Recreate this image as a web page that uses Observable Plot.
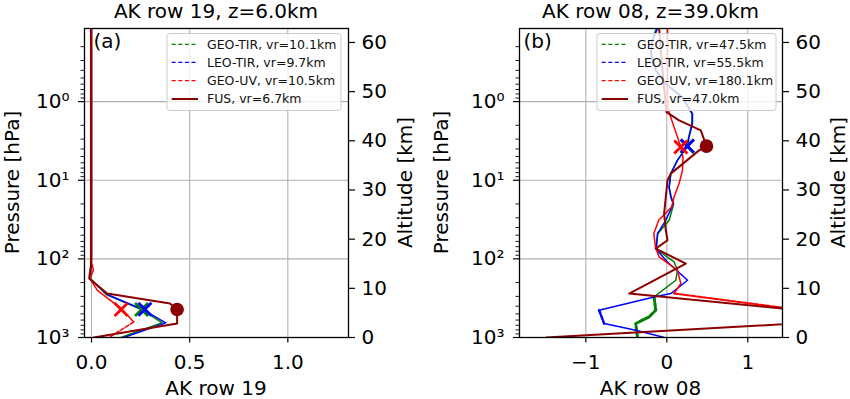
<!DOCTYPE html>
<html><head><meta charset="utf-8">
<script src="https://cdn.jsdelivr.net/npm/d3@7"></script>
<script src="https://cdn.jsdelivr.net/npm/@observablehq/plot@0.6"></script>
<style>
html,body{margin:0;padding:0;background:#fff;}
#fig{position:relative;width:850px;height:399px;overflow:hidden;font-family:"DejaVu Sans";background:#fff;}
#fig svg{position:absolute;top:0;}
</style></head><body><div id="fig"></div>
<script>
// ---------- shared axis values ----------
const yTicks = [1, 10, 100, 1000];
const yTickLabels = ["10\u2070", "10\u00B9", "10\u00B2", "10\u00B3"];
const yGrid = [1, 10, 100];
const altTicks = [0, 10, 20, 30, 40, 50, 60];
const seriesNames = ["GEO-TIR", "LEO-TIR", "GEO-UV", "FUS"];

// ---------- panel (a): AK row 19, z=6.0km ----------
const a_title = "AK row 19, z=6.0km";
const a_xlabel = "AK row 19";
const a_xTicks = [0, 0.5, 1.0];
const a_xTickLabels = ["0.0", "0.5", "1.0"];
const a_legend = ["GEO-TIR, vr=10.1km", "LEO-TIR, vr=9.7km", "GEO-UV, vr=10.5km", "FUS, vr=6.7km"];

const a_GEO_TIR_p = [0.1175, 100, 178, 284, 440, 650, 1000];
const a_GEO_TIR_v = [0.0, 0.0, -0.005, 0.075, 0.255, 0.36, 0.15];
const a_LEO_TIR_p = [0.1175, 100, 180, 284, 440, 652, 1000];
const a_LEO_TIR_v = [0.0, 0.0, -0.008, 0.08, 0.26, 0.378, 0.165];
const a_GEO_UV_p = [0.1175, 110, 139, 178, 251, 440, 634, 1000];
const a_GEO_UV_v = [0.0, 0.0, 0.01, -0.008, 0.03, 0.156, 0.215, 0.09];
const a_FUS_p = [0.1175, 120, 178, 276, 370, 441, 664, 1000];
const a_FUS_v = [-0.003, -0.003, -0.012, 0.08, 0.40, 0.436, 0.436, 0.012];
// diagonal markers (x) and FUS dot
const a_mark_v = [0.255, 0.272, 0.151];
const a_mark_p = [441, 437, 441];
const a_dot_v = [0.436];
const a_dot_p = [441];

// ---------- panel (b): AK row 08, z=39.0km ----------
const b_title = "AK row 08, z=39.0km";
const b_xlabel = "AK row 08";
const b_xTicks = [-1, 0, 1];
const b_xTickLabels = ["\u22121", "0", "1"];
const b_legend = ["GEO-TIR, vr=47.5km", "LEO-TIR, vr=55.5km", "GEO-UV, vr=180.1km", "FUS, vr=47.0km"];

const b_GEO_TIR_p = [0.1175, 0.167, 0.246, 0.40, 0.593, 0.877, 1.425, 1.91, 2.83, 3.68, 5.58, 8.24, 12.2, 16.3, 20, 32.3, 47.7, 74, 109.5, 139.6, 187, 305, 450, 547, 664, 1000];
const b_GEO_TIR_v = [-0.13, -0.18, -0.19, -0.13, -0.02, 0.18, 0.31, 0.31, 0.27, 0.25, 0.13, 0.05, 0.03, 0.055, 0.085, 0.03, -0.11, -0.136, 0.09, 0.132, 0.111, -0.157, -0.136, -0.219, -0.383, -0.362];
const b_LEO_TIR_p = [0.1175, 0.167, 0.246, 0.40, 0.593, 0.877, 1.425, 1.91, 2.83, 3.68, 5.58, 8.24, 12.2, 16.3, 20, 32.3, 47.7, 76, 109.5, 187, 276, 305, 450, 664, 808, 1000];
const b_LEO_TIR_v = [-0.115, -0.177, -0.198, -0.136, -0.012, 0.194, 0.317, 0.317, 0.275, 0.256, 0.132, 0.049, 0.028, 0.049, 0.08, -0.012, -0.115, -0.13, 0.009, 0.256, 0.049, -0.157, -0.836, -0.774, -0.383, -0.03];
const b_GEO_UV_p = [0.1175, 1.0, 1.294, 2.11, 3.75, 5.07, 7.48, 11.0, 16.3, 21.9, 32.3, 47.7, 70.6, 94.6, 139.6, 206, 276, 583];
const b_GEO_UV_v = [0.009, 0.009, 0.021, 0.09, 0.173, 0.2, 0.194, 0.152, 0.09, 0.06, -0.1, -0.16, -0.14, -0.095, 0.132, 0.173, 0.09, 2.5];
const b_FUS_p = [0.1175, 0.2235, 0.489, 1.36, 1.734, 2.32, 3.68, 4.17, 8.24, 10.0, 16.3, 26.6, 43.3, 58, 74, 114.8, 276, 574, 1000];
const b_FUS_v = [-0.095, -0.074, -0.046, -0.004, 0.152, 0.42, 0.49, 0.399, 0.049, 0.009, -0.012, -0.033, -0.012, 0.009, -0.136, 0.235, -0.465, 2.69, -1.49];
const b_mark_v = [0.25, 0.256, 0.173];
const b_mark_p = [3.68, 3.68, 3.78];
const b_dot_v = [0.49];
const b_dot_p = [3.68];

// ---------- styles (kept apart from data) ----------
const COLORS = {"GEO-TIR": "green", "LEO-TIR": "blue", "GEO-UV": "red", "FUS": "#8b0000"};
const FONT = "DejaVu Sans";

function rows(p, v, dash) {
  const out = [];
  const seg = (i0, i1, s, dashed) => { for (let i = i0; i <= i1; i++) out.push({p: p[i], v: v[i], seg: s, dashed}); };
  if (!dash) seg(0, p.length - 1, 0, false);
  else {
    if (dash[0] > 0) seg(0, dash[0], 0, false);
    seg(dash[0], dash[1], 1, true);
    if (dash[1] < p.length - 1) seg(dash[1], p.length - 1, 2, false);
  }
  return out;
}

const yMinor = [];
for (const dec of [0.1, 1, 10, 100]) for (let k = 2; k <= 9; k++) { const t = dec * k; if (t >= 0.1175 && t <= 1000) yMinor.push(t); }

const panels = [
  {left: 0, mL: 84, mR: 77, xDomain: [-0.0357, 1.309], xTicks: a_xTicks, xTickLabels: a_xTickLabels,
   series: [
     {name: "GEO-TIR", p: a_GEO_TIR_p, v: a_GEO_TIR_v, dash: null, w: 1.5, dw: 1.5},
     {name: "LEO-TIR", p: a_LEO_TIR_p, v: a_LEO_TIR_v, dash: null, w: 1.5, dw: 1.5},
     {name: "GEO-UV", p: a_GEO_UV_p, v: a_GEO_UV_v, dash: [6, 7], w: 1.5, dw: 1.5},
     {name: "FUS", p: a_FUS_p, v: a_FUS_v, dash: null, w: 2, dw: 2}],
   mark_v: a_mark_v, mark_p: a_mark_p, dot_v: a_dot_v, dot_p: a_dot_p},
  {left: 425, mL: 94, mR: 68, xDomain: [-1.819, 1.429], xTicks: b_xTicks, xTickLabels: b_xTickLabels,
   series: [
     {name: "GEO-TIR", p: b_GEO_TIR_p, v: b_GEO_TIR_v, dash: [21, 25], w: 1.5, dw: 3},
     {name: "LEO-TIR", p: b_LEO_TIR_p, v: b_LEO_TIR_v, dash: [22, 23], w: 1.5, dw: 2.5},
     {name: "GEO-UV", p: b_GEO_UV_p, v: b_GEO_UV_v, dash: [16, 17], w: 1.5, dw: 2},
     {name: "FUS", p: b_FUS_p, v: b_FUS_v, dash: null, w: 2, dw: 2}],
   mark_v: b_mark_v, mark_p: b_mark_p, dot_v: b_dot_v, dot_p: b_dot_p}
];

const fig = document.getElementById("fig");
const baseStyle = {background: "transparent", fontFamily: FONT, fontSize: "20px", color: "black", overflow: "visible"};

for (const P of panels) {
  const marks = [
    Plot.gridX({ticks: P.xTicks, stroke: "#b0b0b0", strokeOpacity: 1, strokeWidth: 1.1}),
    Plot.gridY({ticks: yGrid, stroke: "#b0b0b0", strokeOpacity: 1, strokeWidth: 1.1})
  ];
  for (const s of P.series) {
    const r = rows(s.p, s.v, s.dash);
    marks.push(Plot.line(r.filter(d => !d.dashed), {x: "v", y: "p", z: "seg", stroke: COLORS[s.name], strokeWidth: s.w, clip: true}));
    marks.push(Plot.line(r.filter(d => d.dashed), {x: "v", y: "p", z: "seg", stroke: COLORS[s.name], strokeWidth: s.dw, strokeDasharray: "4,1.8", clip: true}));
  }
  P.mark_v.forEach((v, i) => {
    marks.push(Plot.dot([{v, p: P.mark_p[i]}], {x: "v", y: "p", symbol: "times", r: 6, stroke: COLORS[seriesNames[i]], strokeWidth: 2.8}));
  });
  marks.push(Plot.dot(P.dot_v.map((v, i) => ({v, p: P.dot_p[i]})), {x: "v", y: "p", r: 6.8, fill: COLORS.FUS, stroke: "none"}));
  marks.push(Plot.frame({stroke: "black", strokeWidth: 1.3}));
  marks.push(Plot.axisX({ticks: P.xTicks, tickFormat: d => P.xTickLabels[P.xTicks.indexOf(d)], tickSize: 5.5, tickPadding: 12, fontSize: 20, label: null, strokeWidth: 1.2}));
  marks.push(Plot.axisY({ticks: yTicks, tickFormat: d => yTickLabels[yTicks.indexOf(d)], tickSize: 6, tickPadding: 9, fontSize: 20, label: null, strokeWidth: 1.2}));
  marks.push(Plot.axisY({ticks: yMinor, tickFormat: () => "", tickSize: 3.5, label: null, strokeWidth: 0.9}));

  const main = Plot.plot({
    width: 425, height: 399, marginLeft: P.mL, marginRight: P.mR, marginTop: 28, marginBottom: 62,
    style: baseStyle,
    x: {domain: P.xDomain, label: null},
    y: {type: "log", domain: [1000, 0.1175], label: null},
    marks
  });
  main.style.left = P.left + "px";
  fig.appendChild(main);

  const alt = Plot.plot({
    width: 425, height: 399, marginLeft: P.mL, marginRight: P.mR, marginTop: 28, marginBottom: 62,
    style: baseStyle,
    y: {domain: [0, 62.84], label: null},
    marks: [Plot.axisY({anchor: "right", ticks: altTicks, tickSize: 6, tickPadding: 7, fontSize: 20, label: null, strokeWidth: 1.2})]
  });
  alt.style.left = P.left + "px";
  alt.style.pointerEvents = "none";
  fig.appendChild(alt);
}

// ---------- text & legends overlay ----------
const deco = d3.create("svg").attr("width", 850).attr("height", 399)
  .style("position", "absolute").style("left", "0px").style("top", "0px")
  .attr("font-family", FONT);

const txt = [
  {t: a_title, x: 216, y: 18, a: "middle"},
  {t: b_title, x: 650.5, y: 18, a: "middle"},
  {t: a_xlabel, x: 216, y: 395, a: "middle"},
  {t: b_xlabel, x: 650.5, y: 395, a: "middle"},
  {t: "(a)", x: 93.5, y: 47.5, a: "start"},
  {t: "(b)", x: 523.5, y: 47.5, a: "start"}
];
for (const d of txt) deco.append("text").attr("x", d.x).attr("y", d.y).attr("text-anchor", d.a).attr("font-size", 20).attr("fill", "black").text(d.t);

const rot = [
  {t: "Pressure [hPa]", x: 11.5, y: 182.5},
  {t: "Altitude [km]", x: 405, y: 182.5},
  {t: "Pressure [hPa]", x: 441, y: 182.5},
  {t: "Altitude [km]", x: 838, y: 182.5}
];
for (const d of rot) deco.append("text").attr("transform", `translate(${d.x},${d.y}) rotate(-90)`)
  .attr("text-anchor", "middle").attr("dy", "0.35em").attr("font-size", 20).attr("fill", "black").text(d.t);

const legends = [
  {x: 167, w: 174, labels: a_legend},
  {x: 597, w: 179, labels: b_legend}
];
const rowY = [44.3, 62.4, 80.7, 99];
for (const L of legends) {
  deco.append("rect").attr("x", L.x).attr("y", 33.5).attr("width", L.w).attr("height", 77).attr("rx", 3)
    .attr("fill", "white").attr("fill-opacity", 0.8).attr("stroke", "#cccccc").attr("stroke-width", 1);
  seriesNames.forEach((n, i) => {
    const isFus = n === "FUS";
    deco.append("line").attr("x1", L.x + 4.7).attr("x2", L.x + 31).attr("y1", rowY[i]).attr("y2", rowY[i])
      .attr("stroke", COLORS[n]).attr("stroke-width", isFus ? 2 : 1.2)
      .attr("stroke-dasharray", isFus ? null : "4,2.6");
    deco.append("text").attr("x", L.x + 40).attr("y", rowY[i]).attr("dy", "0.35em")
      .attr("font-size", 12.5).attr("fill", "#111").text(L.labels[i]);
  });
}
fig.appendChild(deco.node());
</script></body></html>
